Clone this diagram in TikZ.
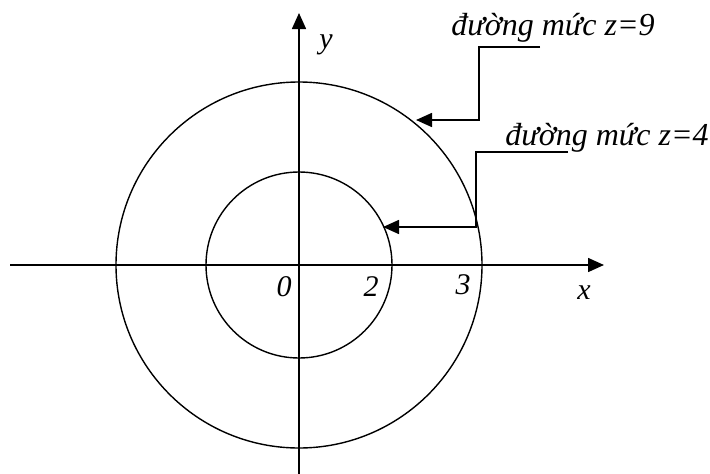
\documentclass[tikz,border=0pt]{standalone}
\usepackage{fontspec}
\setmainfont{Liberation Serif}
\usetikzlibrary{arrows.meta}
\begin{document}
\begin{tikzpicture}[x=1pt,y=-1pt,
  axis/.style={line width=1.6pt,-{Triangle[length=16pt,width=14pt]}},
  curve/.style={line width=1.4pt},
  leader/.style={line width=1.6pt,-{Triangle[length=16pt,width=14pt]}},
  lbl/.style={font=\fontsize{30}{34}\selectfont\itshape,inner sep=0pt},
  txt/.style={font=\fontsize{32}{36}\selectfont\itshape,inner sep=0pt,anchor=base}]
\useasboundingbox (0,0) rectangle (710,474);
% axes
\coordinate (O) at (299,265);
\coordinate (xl) at (10,265);
\coordinate (xr) at (604,265);
\coordinate (yb) at (299,474);
\coordinate (yt) at (299,13);
\draw[axis] (xl) -- (xr);
\draw[axis] (yb) -- (yt);
% level curves
\draw[curve] (O) circle[radius=183pt];
\draw[curve] (O) circle[radius=93pt];
% axis labels
\node[lbl] (lx) at (584,293) {x};
\node[lbl] (ly) at (326,45) {y};
\node[lbl] (l0) at (284,287) {0};
\node[lbl] (l2) at (371,287) {2};
\node[lbl] (l3) at (463,285) {3};
% callouts
\node[txt] (t9) at (553,35) {đường mức z=9};
\node[txt] (t4) at (607,145) {đường mức z=4};
\coordinate (a9) at (540,47);
\coordinate (b9) at (479,47);
\coordinate (c9) at (479,120);
\coordinate (p9) at (416,120);
\coordinate (a4) at (568,152);
\coordinate (b4) at (476,152);
\coordinate (c4) at (476,227);
\coordinate (p4) at (383,227);
\draw[leader] (a9) -- (b9) -- (c9) -- (p9);
\draw[leader] (a4) -- (b4) -- (c4) -- (p4);
\end{tikzpicture}
\end{document}
